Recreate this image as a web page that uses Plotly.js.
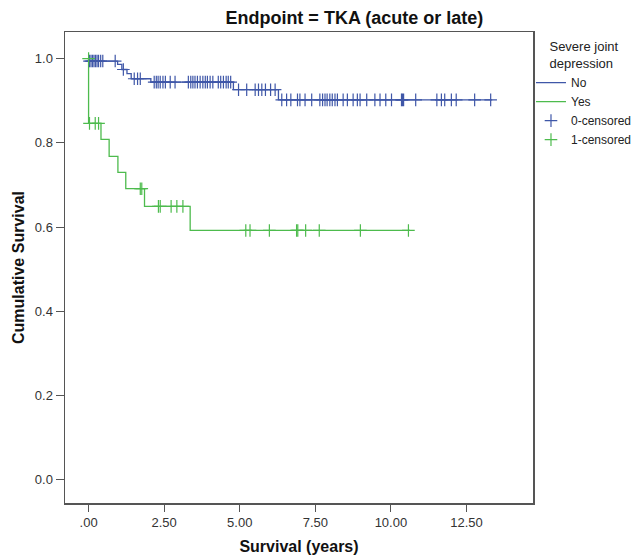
<!DOCTYPE html>
<html>
<head>
<meta charset="utf-8">
<script src="https://cdn.plot.ly/plotly-3.0.1.min.js"></script>
<style>html,body{margin:0;padding:0;background:#fff;}#chart{width:635px;height:555px;}</style>
</head>
<body>
<div id="chart"></div>
<script>
// Group "No" (Severe joint depression = No): event times and survival after each step
const noTimes = [0, 0.96, 1.10, 1.27, 1.41, 2.06, 4.79, 6.28];
const noSurv  = [0.994, 0.986, 0.974, 0.964, 0.952, 0.944, 0.926, 0.902];
const noEnd = 13.35;
const noCensored = [0.03, 0.08, 0.13, 0.18, 0.23, 0.28, 0.33, 0.40, 0.47, 0.88, 1.15,
  1.51, 1.62, 1.71,
  2.17, 2.24, 2.30, 2.37, 2.46, 2.54, 2.70, 2.86, 3.30, 3.38, 3.45, 3.52, 3.60, 3.69, 3.78, 3.86, 3.93, 4.02, 4.11, 4.29, 4.37, 4.46, 4.55, 4.62, 4.70,
  4.96, 5.23, 5.51, 5.62, 5.73, 5.85, 6.02, 6.17,
  6.39, 6.55, 6.69, 6.91, 6.99, 7.16, 7.38, 7.65, 7.74, 7.82, 7.89, 7.98, 8.06, 8.15, 8.23, 8.42, 8.56, 8.75, 8.89, 8.98, 9.20, 9.47, 9.64, 9.83, 10.02, 10.35, 10.38, 10.42, 10.82, 11.52, 11.67, 11.78, 12.00, 12.16, 12.77, 13.30];

// Group "Yes"
const yesTimes = [0, 0.41, 0.68, 0.97, 1.23, 1.85, 3.36];
const yesSurv  = [0.846, 0.808, 0.768, 0.730, 0.691, 0.649, 0.592];
const yesEnd = 10.63;
const yesCensored = [0, 0.03, 0.22, 0.33, 1.71, 1.76, 2.31, 2.37, 2.73, 2.92, 3.12,
  5.20, 5.34, 5.98, 6.88, 6.92, 7.18, 7.63, 8.99, 10.58];

const groupNames = ["No", "Yes", "0-censored", "1-censored"];
const xTickVals = [0, 2.5, 5, 7.5, 10, 12.5];
const xTickText = [".00", "2.50", "5.00", "7.50", "10.00", "12.50"];
const yTickVals = [0, 0.2, 0.4, 0.6, 0.8, 1.0];
const yTickText = ["0.0", "0.2", "0.4", "0.6", "0.8", "1.0"];

const BLUE = "#3f57a8";
const GREEN = "#4dbb4d";

function stepXY(times, surv, end) {
  const x = [0].concat(times, [end]);
  const y = [1].concat(surv, [surv[surv.length - 1]]);
  return {x, y};
}
function levelAt(times, surv, t) {
  let s = 1;
  for (let i = 0; i < times.length; i++) { if (times[i] < t) s = surv[i]; }
  return s;
}

const noStep = stepXY(noTimes, noSurv, noEnd);
const yesStep = stepXY(yesTimes, yesSurv, yesEnd);

const traces = [
  {x: noStep.x, y: noStep.y, mode: "lines", line: {shape: "hv", color: BLUE, width: 1.3}, name: groupNames[0], legendrank: 1},
  {x: yesStep.x, y: yesStep.y, mode: "lines", line: {shape: "hv", color: GREEN, width: 1.3}, name: groupNames[1], legendrank: 2},
  {x: noCensored, y: noCensored.map(t => levelAt(noTimes, noSurv, t)), mode: "markers",
   marker: {symbol: "cross-thin-open", size: 9, line: {color: BLUE, width: 1.2}, color: BLUE}, name: groupNames[2], legendrank: 3},
  {x: yesCensored, y: yesCensored.map(t => levelAt(yesTimes, yesSurv, t)), mode: "markers",
   marker: {symbol: "cross-thin-open", size: 9, line: {color: GREEN, width: 1.2}, color: GREEN}, name: groupNames[3], legendrank: 4}
];

const axisFont = {family: "Liberation Sans, Arial, sans-serif", size: 13, color: "#333"};
const layout = {
  width: 635, height: 555,
  margin: {l: 65, r: 102, t: 32, b: 52, autoexpand: false},
  paper_bgcolor: "#fff", plot_bgcolor: "#fff",
  font: {family: "Liberation Sans, Arial, sans-serif", color: "#222"},
  title: {text: "<b>Endpoint = TKA (acute or late)</b>", font: {size: 18, color: "#111"}, x: 0.558, xanchor: "center", y: 0.968, yanchor: "middle"},
  xaxis: {
    range: [-0.78, 14.70], tickvals: xTickVals, ticktext: xTickText,
    showgrid: false, zeroline: false, showline: true, mirror: true, linecolor: "#555", linewidth: 1.5,
    ticks: "outside", ticklen: 7, tickcolor: "#555", tickfont: axisFont,
    title: {text: "<b>Survival (years)</b>", font: {size: 16, color: "#111"}, standoff: 12}
  },
  yaxis: {
    range: [-0.055, 1.063], tickvals: yTickVals, ticktext: yTickText,
    showgrid: false, zeroline: false, showline: true, mirror: true, linecolor: "#555", linewidth: 1.5,
    ticks: "outside", ticklen: 8, tickcolor: "#555", tickfont: axisFont,
    title: {text: "<b>Cumulative Survival</b>", font: {size: 16, color: "#111"}, standoff: 6}
  },
  showlegend: true,
  legend: {
    x: 0.9957, xanchor: "left", y: 0.995, yanchor: "top",
    font: {family: "Liberation Sans, Arial, sans-serif", size: 12, color: "#222"},
    title: {text: "Severe joint<br>depression", font: {size: 13, color: "#222"}, side: "top center"},
    bgcolor: "rgba(0,0,0,0)", borderwidth: 0, itemwidth: 30, tracegroupgap: 0
  }
};

Plotly.newPlot("chart", traces, layout, {displayModeBar: false, staticPlot: true});
</script>
</body>
</html>
